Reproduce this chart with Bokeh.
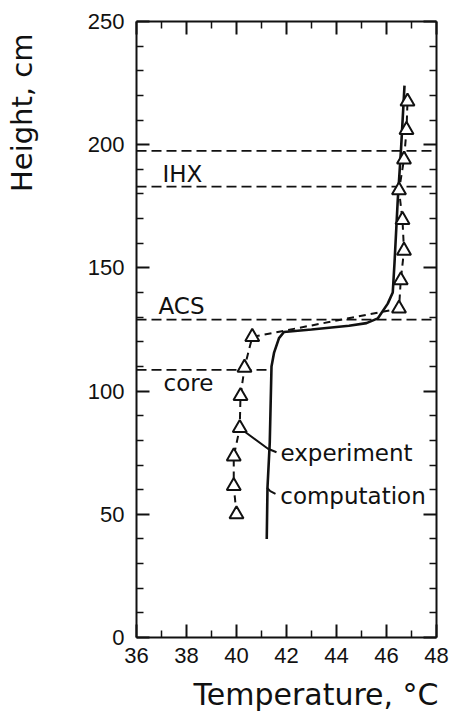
import math
from bokeh.plotting import figure
from bokeh.models import LinearAxis, Range1d, Title, FixedTicker, CustomJSTickFormatter
from bokeh.embed import file_html
from bokeh.resources import INLINE
from bokeh.core.properties import value

# ---- data ----
exp_temp = [40.0, 39.89, 39.89, 40.13, 40.16, 40.32, 40.63, 46.5, 46.57, 46.7, 46.64, 46.5, 46.7, 46.8, 46.84]
exp_height = [50, 61.5, 73.5, 85, 98, 109.5, 122, 133.5, 145, 157, 169.5, 181.5, 194, 206, 217.5]

comp_temp = [41.21, 41.24, 41.33, 41.40, 41.50, 41.70, 41.90, 43.00, 44.50, 45.20, 45.65, 46.05, 46.25, 46.32, 46.45, 46.58, 46.72]
comp_height = [40, 61, 79, 110, 115.5, 121.5, 124, 125, 126.5, 127.6, 129.5, 135.5, 140, 152, 177.5, 198, 224]

region_heights = [197.5, 183.0, 129.0, 108.6]
region_start = [36, 36, 36, 36]
region_end = [48, 48, 48, 41.4]

region_names = ["IHX", "ACS", "core"]
region_name_temp = [37.04, 36.88, 37.08]
region_name_height = [188.2, 134.5, 103.4]

note_names = ["experiment", "computation"]
note_temp = [41.76, 41.75]
note_height = [74.8, 57.5]
exp_leader_temp = [40.13, 41.26, 41.6]
exp_leader_height = [85, 76.6, 75.2]
comp_leader_temp = [41.22, 41.35, 41.56]
comp_leader_height = [60.8, 59.4, 58.3]

x_ticks = [36, 38, 40, 42, 44, 46, 48]
x_minor = [37, 39, 41, 43, 45, 47]
y_ticks = [0, 50, 100, 150, 200, 250]
y_minor = [10, 20, 30, 40, 60, 70, 80, 90, 110, 120, 130, 140, 160, 170, 180, 190, 210, 220, 230, 240]

x_title = "Temperature, °C"
y_title = "Height, cm"

INK = "#111111"

p = figure(width=454, height=720, x_range=Range1d(36, 48), y_range=Range1d(0, 250),
           output_backend="svg", toolbar_location=None,
           min_border_left=136, min_border_right=18, min_border_top=21, min_border_bottom=82)
p.xgrid.visible = False
p.ygrid.visible = False
p.outline_line_color = None
p.background_fill_color = "white"
p.border_fill_color = "white"

xt = FixedTicker(ticks=x_ticks, minor_ticks=x_minor)
yt = FixedTicker(ticks=y_ticks, minor_ticks=y_minor)

def style_axis(ax, show_labels, standoff=12):
    ax.axis_line_color = INK
    ax.axis_line_width = 2
    ax.major_tick_in = 13
    ax.major_tick_out = 0
    ax.minor_tick_in = 7
    ax.minor_tick_out = 0
    ax.major_tick_line_width = 2
    ax.minor_tick_line_width = 1.5
    ax.major_tick_line_color = INK
    ax.minor_tick_line_color = INK
    ax.major_label_text_font = "Liberation Sans"
    ax.major_label_text_font_size = "22px"
    ax.major_label_text_color = INK
    if show_labels:
        ax.major_label_standoff = standoff
    else:
        ax.formatter = CustomJSTickFormatter(code="return ''")
        ax.major_label_standoff = 0

p.xaxis.ticker = xt
p.yaxis.ticker = yt
style_axis(p.xaxis[0], True, 10)
style_axis(p.yaxis[0], True, 12)

top = LinearAxis(ticker=xt)
style_axis(top, False)
p.add_layout(top, "above")
right = LinearAxis(ticker=yt)
style_axis(right, False)
p.add_layout(right, "right")

# invisible spacer between the y tick labels and the y title
spacer = LinearAxis(ticker=FixedTicker(ticks=[0]),
                    formatter=CustomJSTickFormatter(code="return ''"),
                    axis_line_alpha=0, major_tick_line_alpha=0, minor_tick_line_alpha=0,
                    major_tick_in=0, major_tick_out=40, minor_tick_in=0, minor_tick_out=0,
                    major_label_standoff=0, major_label_text_font_size="22px")
p.add_layout(spacer, "left")

# region boundaries
p.segment(x0=region_start, x1=region_end, y0=region_heights, y1=region_heights,
          line_color=INK, line_width=1.8, line_dash="10 5")

# computation
p.line(comp_temp, comp_height, line_color=INK, line_width=2.6)

# experiment
p.line(exp_temp, exp_height, line_color=INK, line_width=2, line_dash="7 5")
p.line(exp_leader_temp, exp_leader_height, line_color=INK, line_width=2)
p.line(comp_leader_temp, comp_leader_height, line_color=INK, line_width=2)
p.scatter(exp_temp, exp_height, marker="triangle", size=14, fill_color="white",
          line_color=INK, line_width=2)

p.text(x=region_name_temp, y=region_name_height, text=region_names,
       text_font=value("DejaVu Sans"), text_font_size="23px", text_color=INK,
       text_baseline="middle", text_align="left")
p.text(x=note_temp, y=note_height, text=note_names,
       text_font=value("DejaVu Sans"), text_font_size="23px", text_color=INK,
       text_baseline="middle", text_align="left")

p.add_layout(Title(text=x_title, align="left", offset=57, text_font="DejaVu Sans",
                   text_font_size="30px", text_color=INK, text_font_style="normal",
                   standoff=18), "below")
p.add_layout(Title(text=y_title, align="right", offset=12, text_font="DejaVu Sans",
                   text_font_size="29px", text_color=INK, text_font_style="normal",
                   vertical_align="top", standoff=8), "left")

open("out.html", "w").write(file_html(p, INLINE))
